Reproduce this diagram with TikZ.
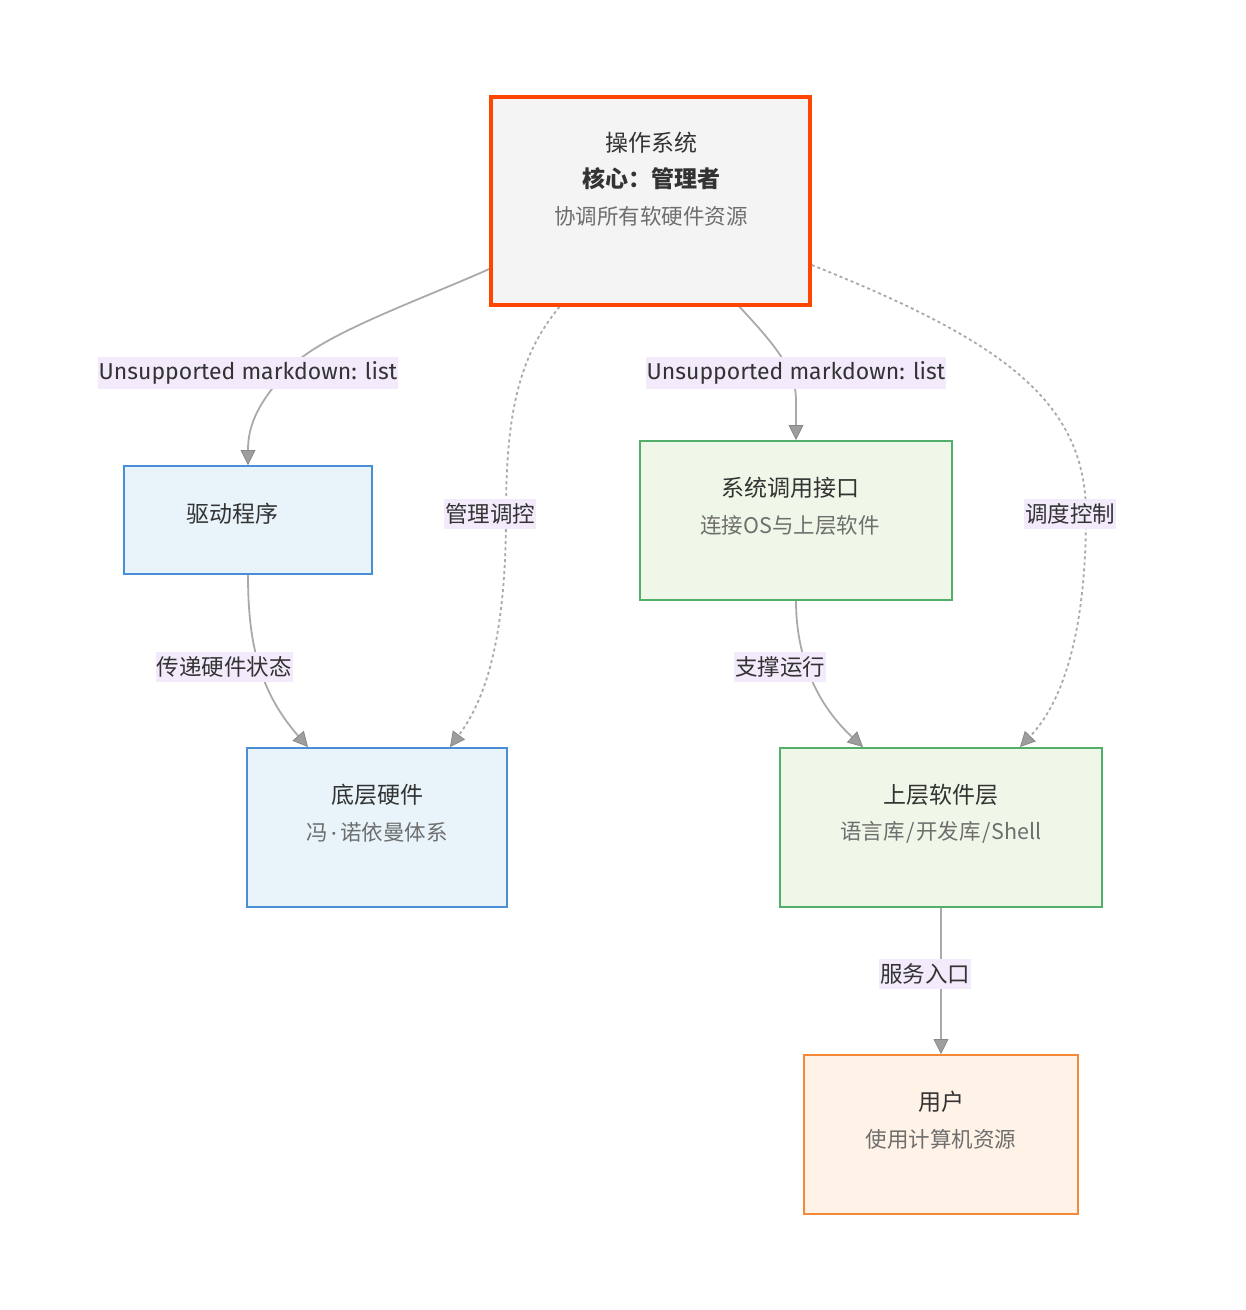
\documentclass[tikz,border=0pt]{standalone}
\usepackage{fontspec}
\setmainfont{Noto Sans CJK SC}
\newfontfamily\latinfont{Fira Sans}
\usetikzlibrary{arrows.meta}
\pgfdeclarelayer{bg}
\pgfsetlayers{bg,main}
\definecolor{osborder}{HTML}{FF4500}
\definecolor{osfill}{HTML}{F4F4F4}
\definecolor{blueborder}{HTML}{4A8FD6}
\definecolor{bluefill}{HTML}{E8F4FA}
\definecolor{greenborder}{HTML}{52AF6A}
\definecolor{greenfill}{HTML}{EFF8E8}
\definecolor{orangeborder}{HTML}{F5893A}
\definecolor{orangefill}{HTML}{FFF2E6}
\definecolor{edgegray}{HTML}{AAAAAA}
\definecolor{tipgray}{HTML}{9E9E9E}
\definecolor{tipline}{HTML}{888888}
\definecolor{lblbg}{HTML}{F3EBFC}
\definecolor{maintext}{HTML}{333333}
\definecolor{subtext}{HTML}{6E6E6E}
\tikzset{
  box/.style={rectangle, inner sep=0pt},
  maintxt/.style={text=maintext, inner sep=0pt, font=\fontsize{23}{28}\selectfont},
  boldtxt/.style={text=maintext, inner sep=0pt, font=\fontsize{23}{28}\selectfont\bfseries},
  subtxt/.style={text=subtext, inner sep=0pt, font=\fontsize{21.5}{26}\selectfont},
  lbl/.style={fill=lblbg, text=maintext, inner xsep=1pt, inner ysep=5pt, font=\fontsize{22.5}{26}\selectfont},
  edge/.style={draw=edgegray, line width=1.8pt, -{Triangle[length=15pt,width=15pt,fill=tipgray,color=tipline,line width=0.8pt]}},
  dashededge/.style={edge, dash pattern=on 3pt off 3pt},
}
\begin{document}
\begin{tikzpicture}[x=1pt,y=-1pt]
\useasboundingbox (0,0) rectangle (1246,1310);

% boxes
\node[box, draw=osborder, fill=osfill, line width=3.5pt, minimum width=319pt, minimum height=208pt] (os) at (650.5,201) {};
\node[box, draw=blueborder, fill=bluefill, line width=2pt, minimum width=248pt, minimum height=108pt] (drv) at (248,520) {};
\node[box, draw=blueborder, fill=bluefill, line width=2pt, minimum width=260pt, minimum height=159pt] (hw) at (377,827.5) {};
\node[box, draw=greenborder, fill=greenfill, line width=2pt, minimum width=312pt, minimum height=159pt] (sys) at (796,520.5) {};
\node[box, draw=greenborder, fill=greenfill, line width=2pt, minimum width=322pt, minimum height=159pt] (up) at (941,827.5) {};
\node[box, draw=orangeborder, fill=orangefill, line width=2pt, minimum width=274pt, minimum height=159pt] (usr) at (941,1134.5) {};

% texts
\node[maintxt] (os1) at (651,143) {操作系统};
\node[boldtxt] (os2) at (651,179) {核心：管理者};
\node[subtxt] (os3) at (651,216) {协调所有软硬件资源};
\node[maintxt] (drv1) at (232,514) {驱动程序};
\node[maintxt] (hw1) at (377,795) {底层硬件};
\node[subtxt] (hw2) at (377,832) {冯{\latinfont\,·\,}诺依曼体系};
\node[maintxt] (sys1) at (790,488) {系统调用接口};
\node[subtxt] (sys2) at (790,525) {连接OS与上层软件};
\node[maintxt] (up1) at (941,795) {上层软件层};
\node[subtxt] (up2) at (941,832) {语言库\kern1.5pt/\kern1.5pt开发库\kern1.5pt/\kern1.5pt Shell};
\node[maintxt] (usr1) at (941,1102) {用户};
\node[subtxt] (usr2) at (941,1139) {使用计算机资源};

% edge labels
\node[lbl, font=\fontsize{23}{26}\selectfont\latinfont] (l1) at (248,373) {Unsupported markdown: list};
\node[lbl] (l2) at (490,514) {管理调控};
\node[lbl, font=\fontsize{23}{26}\selectfont\latinfont] (l3) at (796,373) {Unsupported markdown: list};
\node[lbl] (l4) at (1070,514) {调度控制};
\node[lbl] (l5) at (224,667) {传递硬件状态};
\node[lbl] (l6) at (780,667) {支撑运行};
\node[lbl] (l7) at (925,974) {服务入口};

\begin{pgfonlayer}{bg}
\fill[white] (0,0) rectangle (1246,1310);
\draw[edge] ([yshift=-68pt]os.west) .. controls (420,300) and (320,335) .. (290,368)
  .. controls (258,402) and (248,425) .. (drv.north);
\draw[dashededge] ([xshift=-91pt]os.south) .. controls (520,355) and (506,410) .. (506,514)
  .. controls (506,640) and (485,700) .. ([xshift=73pt]hw.north);
\draw[edge] ([xshift=89pt]os.south) .. controls (775,345) and (796,370) .. (796,400) -- (sys.north);
\draw[dashededge] ([yshift=-64pt]os.east) .. controls (1000,340) and (1086,400) .. (1086,514)
  .. controls (1086,640) and (1060,705) .. ([xshift=79pt]up.north);
\draw[edge] (drv.south) .. controls (248,640) and (258,690) .. ([xshift=-69pt]hw.north);
\draw[edge] (sys.south) .. controls (796,650) and (812,700) .. ([xshift=-78pt]up.north);
\draw[edge] (up.south) -- (usr.north);
\end{pgfonlayer}
\end{tikzpicture}
\end{document}
